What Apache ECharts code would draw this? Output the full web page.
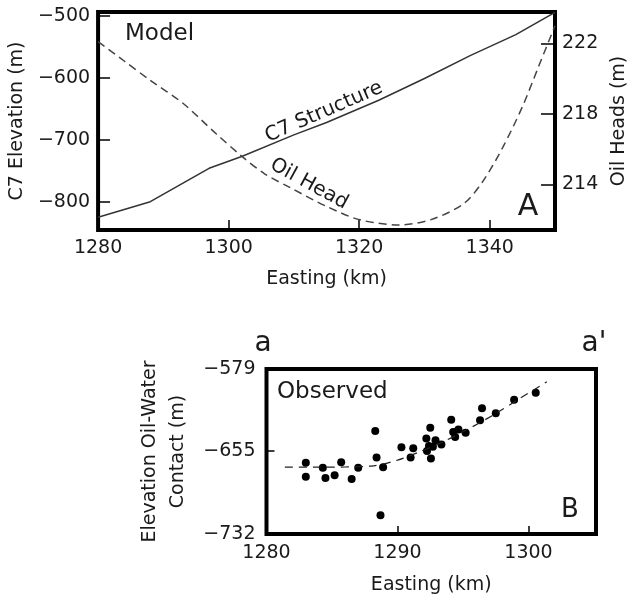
<!DOCTYPE html>
<html>
<head>
<meta charset="utf-8">
<script src="https://cdn.jsdelivr.net/npm/echarts@6/dist/echarts.min.js"></script>
<style>
  html, body { margin: 0; padding: 0; background: #fff; }
  #chart { width: 637px; height: 601px; }
</style>
</head>
<body>
<div id="chart"></div>
<script>
// panel A - model profile
const c7Easting = [1280, 1288, 1297, 1302, 1310, 1315, 1323, 1330, 1337, 1344, 1350];
const c7Elevation = [-825, -800, -746, -727, -692, -672, -636, -601, -564, -530, -494];
const headEasting = [1280, 1284, 1288, 1293, 1298, 1302, 1305.5, 1309.5, 1315, 1320, 1326, 1331, 1336, 1339, 1342, 1345, 1347.5, 1350];
const oilHead = [222.1, 221.0, 219.9, 218.6, 216.9, 215.6, 214.6, 213.8, 212.75, 212.0, 211.7, 212.0, 212.9, 214.2, 216.1, 218.4, 220.7, 223.0];

// panel B - observed contacts
const obsEasting = [1283.0, 1283.0, 1284.3, 1284.5, 1285.2, 1285.7, 1286.5, 1287.0, 1288.3, 1288.4, 1288.9, 1288.7,
  1290.3, 1291.2, 1291.0, 1292.2, 1292.5, 1292.9, 1292.4, 1292.25, 1292.55, 1292.7, 1293.35,
  1294.1, 1294.25, 1294.4, 1294.65, 1295.2, 1296.3, 1296.45, 1297.5, 1298.9, 1300.55];
const obsContact = [-666, -679, -670.5, -680, -677.5, -665.5, -681, -670.5, -636.5, -661, -670, -714.5,
  -651.5, -652.5, -661, -643.5, -633.5, -645, -650.5, -655, -662, -651, -649,
  -626, -637.5, -642, -635, -638, -626.5, -615.5, -620, -607.5, -601];
const trendEasting = [1281.4, 1284, 1288, 1290, 1291.7, 1293.5, 1295.5, 1297.3, 1299.35, 1301.4];
const trendContact = [-670, -670, -669, -663.5, -655.7, -646.4, -634, -621.7, -606.2, -590.8];

// tick labels
const xTicksA = [1280, 1300, 1320, 1340];
const elevTicks = [-800, -700, -600, -500];
const headTicks = [214, 218, 222];
const xTicksB = [1280, 1290, 1300];
const contactTicks = [-732, -655, -579];

const FONT = "DejaVu Sans";
const INK = "#1a1a1a";
const zip = (xs, ys) => xs.map((x, i) => [x, ys[i]]);
const plain = (v) => String(v).replace("-", "\u2212");

const txt = (size) => ({ fontFamily: FONT, fontSize: size, color: INK });

const chart = echarts.init(document.getElementById("chart"));

chart.setOption({
  animation: false,
  grid: [
    { left: 98, top: 12, width: 465, height: 218, show: true, borderColor: "#000", borderWidth: 4, backgroundColor: "transparent" },
    { left: 266.5, top: 369, width: 329.5, height: 165, show: true, borderColor: "#000", borderWidth: 4, backgroundColor: "transparent" },
  ],
  xAxis: [
    {
      type: "value", gridIndex: 0, min: 1280, max: 1350,
      axisLine: { show: false }, splitLine: { show: false },
      axisTick: { inside: true, length: 10, customValues: xTicksA.slice(1), lineStyle: { color: "#000", width: 1.5 } },
      axisLabel: { customValues: xTicksA, margin: 9, formatter: plain, ...txt(19) },
      name: "Easting (km)", nameLocation: "middle", nameGap: 40, nameTextStyle: txt(19),
    },
    {
      type: "value", gridIndex: 1, min: 1280, max: 1305.15,
      axisLine: { show: false }, splitLine: { show: false },
      axisTick: { inside: true, length: 8, customValues: xTicksB.slice(1), lineStyle: { color: "#000", width: 1.5 } },
      axisLabel: { customValues: xTicksB, margin: 10, formatter: plain, ...txt(19) },
      name: "Easting (km)", nameLocation: "middle", nameGap: 42, nameTextStyle: txt(19),
    },
  ],
  yAxis: [
    {
      type: "value", gridIndex: 0, position: "left", min: -845.7, max: -493.5,
      axisLine: { show: false }, splitLine: { show: false },
      axisTick: { inside: true, length: 12, customValues: elevTicks, lineStyle: { color: "#000", width: 1.5 } },
      axisLabel: { customValues: elevTicks, margin: 8, formatter: plain, ...txt(19) },
      name: "C7 Elevation (m)", nameLocation: "middle", nameGap: 68, nameTextStyle: txt(19),
    },
    {
      type: "value", gridIndex: 0, position: "right", min: 211.41, max: 223.78,
      axisLine: { show: false }, splitLine: { show: false },
      axisTick: { inside: true, length: 14, customValues: headTicks, lineStyle: { color: "#000", width: 1.5 } },
      axisLabel: { customValues: headTicks, margin: 7, formatter: plain, ...txt(19) },
      name: "Oil Heads (m)", nameLocation: "middle", nameGap: 55, nameTextStyle: txt(19),
    },
    {
      type: "value", gridIndex: 1, min: -732, max: -579,
      axisLine: { show: false }, splitLine: { show: false },
      axisTick: { inside: true, length: 8, customValues: [-655], lineStyle: { color: "#000", width: 1.5 } },
      axisLabel: { customValues: contactTicks, margin: 11, formatter: plain, ...txt(19) },
      name: "Elevation Oil-Water\nContact (m)", nameLocation: "middle", nameGap: 70,
      nameTextStyle: { ...txt(19), lineHeight: 28 },
    },
  ],
  series: [
    {
      name: "C7 Structure", type: "line", xAxisIndex: 0, yAxisIndex: 0,
      data: zip(c7Easting, c7Elevation), symbol: "none",
      lineStyle: { color: "#333", width: 1.5 },
    },
    {
      name: "Oil Head", type: "line", xAxisIndex: 0, yAxisIndex: 1,
      data: zip(headEasting, oilHead), symbol: "none", smooth: 0.3,
      lineStyle: { color: "#444", width: 1.5, type: [8, 5] },
    },
    {
      name: "Trend", type: "line", xAxisIndex: 1, yAxisIndex: 2,
      data: zip(trendEasting, trendContact), symbol: "none", smooth: 0.3,
      lineStyle: { color: "#222", width: 1.2, type: [8, 6] },
    },
    {
      name: "Observed", type: "scatter", xAxisIndex: 1, yAxisIndex: 2,
      data: zip(obsEasting, obsContact), symbolSize: 8,
      itemStyle: { color: "#000", opacity: 1 },
    },
  ],
  graphic: [
    { type: "text", x: 125, y: 34, style: { text: "Model", font: `23px ${FONT}`, fill: INK, textVerticalAlign: "middle" } },
    { type: "text", x: 528, y: 207, style: { text: "A", font: `30px ${FONT}`, fill: INK, textAlign: "center", textVerticalAlign: "middle" } },
    { type: "text", x: 324, y: 112, rotation: 0.41, style: { text: "C7 Structure", font: `20px ${FONT}`, fill: INK, textAlign: "center", textVerticalAlign: "middle" } },
    { type: "text", x: 309, y: 184, rotation: -0.5, style: { text: "Oil Head", font: `20px ${FONT}`, fill: INK, textAlign: "center", textVerticalAlign: "middle" } },
    { type: "text", x: 277, y: 392, style: { text: "Observed", font: `23px ${FONT}`, fill: INK, textVerticalAlign: "middle" } },
    { type: "text", x: 570, y: 510, style: { text: "B", font: `26px ${FONT}`, fill: INK, textAlign: "center", textVerticalAlign: "middle" } },
    { type: "text", x: 263, y: 344, style: { text: "a", font: `28px ${FONT}`, fill: INK, textAlign: "center", textVerticalAlign: "middle" } },
    { type: "text", x: 594, y: 344, style: { text: "a'", font: `28px ${FONT}`, fill: INK, textAlign: "center", textVerticalAlign: "middle" } },
  ],
});
</script>
</body>
</html>
